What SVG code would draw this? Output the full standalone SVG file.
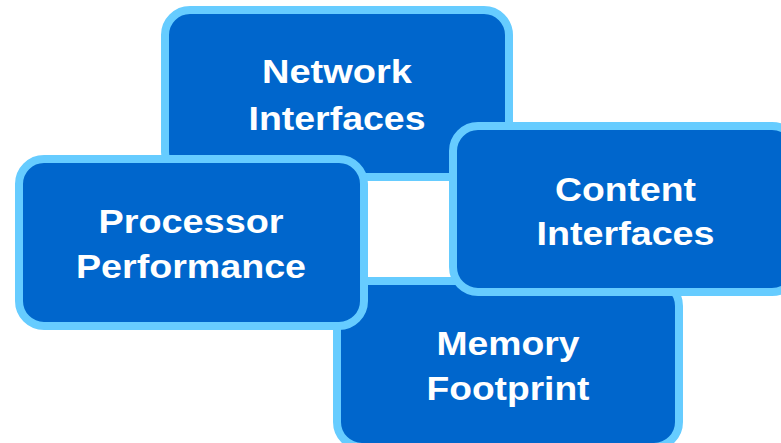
<svg xmlns="http://www.w3.org/2000/svg" width="781" height="443" viewBox="0 0 781 443">
<style>
.box{fill:#0066CC;stroke:#66CCFF;stroke-width:8}
.lbl{fill:#FFFFFF;font-family:"Liberation Sans",Arial,sans-serif;font-weight:bold;font-size:34px;text-anchor:middle}
</style>
<rect width="781" height="443" fill="#FFFFFF"/>
<g id="connectors"></g>
<g id="network">
<rect class="box" x="165" y="10" width="344" height="167" rx="25" ry="25"/>
<text class="lbl" x="337" y="83" textLength="150" lengthAdjust="spacingAndGlyphs">Network</text>
<text class="lbl" x="337" y="130" textLength="177" lengthAdjust="spacingAndGlyphs">Interfaces</text>
</g>
<g id="memory">
<rect class="box" x="337" y="281" width="342" height="166" rx="25" ry="25"/>
<text class="lbl" x="508" y="355" textLength="143" lengthAdjust="spacingAndGlyphs">Memory</text>
<text class="lbl" x="508" y="400" textLength="163" lengthAdjust="spacingAndGlyphs">Footprint</text>
</g>
<g id="processor">
<rect class="box" x="19" y="159" width="345" height="167" rx="25" ry="25"/>
<text class="lbl" x="191" y="233" textLength="185" lengthAdjust="spacingAndGlyphs">Processor</text>
<text class="lbl" x="191" y="278" textLength="230" lengthAdjust="spacingAndGlyphs">Performance</text>
</g>
<g id="content">
<rect class="box" x="453" y="126" width="344" height="166" rx="25" ry="25"/>
<text class="lbl" x="625.5" y="201" textLength="141" lengthAdjust="spacingAndGlyphs">Content</text>
<text class="lbl" x="625.5" y="245" textLength="178" lengthAdjust="spacingAndGlyphs">Interfaces</text>
</g>
</svg>
